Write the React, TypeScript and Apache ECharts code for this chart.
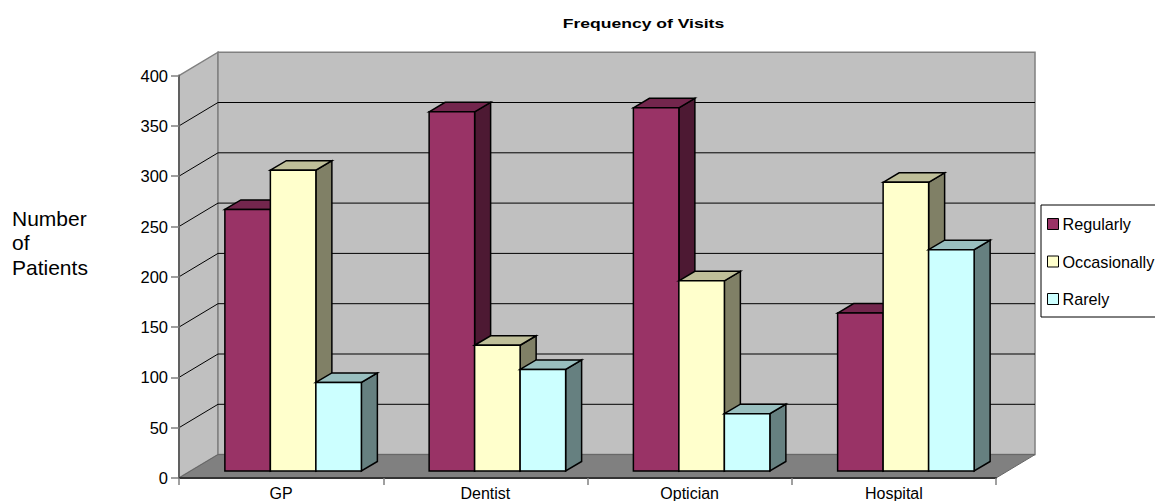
import React, { useEffect, useRef } from "react";
import * as echarts from "echarts";

const categories = ["GP", "Dentist", "Optician", "Hospital"];
const regularly = [260, 357, 361, 157];
const occasionally = [299, 125, 189, 287];
const rarely = [88, 101, 57, 220];
const yTicks = [50, 100, 150, 200, 250, 300, 350];
const seriesNames = ["Regularly", "Occasionally", "Rarely"];
const seriesValues = [regularly, occasionally, rarely];
const fronts = ["#993366", "#FFFFCC", "#CCFFFF"];
const tops = ["#73264D", "#BFBF99", "#99BFBF"];
const sides = ["#4D1933", "#808066", "#668080"];

const FONT = "Liberation Sans, Arial, sans-serif";
const WALL_DX = 39;
const WALL_DY = 23.4;
const BAR_W = 45.5;
const BAR_DX = 16;
const BAR_DY = 9.5;
const BASE_LIFT = 7;
const CENTER_SHIFT = 12;

const poly = (points: number[][], fill: string, stroke: string, lineWidth: number) => ({
  type: "polygon",
  shape: { points },
  style: { fill, stroke, lineWidth, lineJoin: "miter" },
});

function wallsItem(params: any) {
  const c = params.coordSys;
  const l = c.x, r = c.x + c.width, t = c.y, b = c.y + c.height;
  const g = "#808080";
  return {
    type: "group",
    children: [
      poly([[l, t], [l + WALL_DX, t - WALL_DY], [l + WALL_DX, b - WALL_DY], [l, b]], "#C0C0C0", g, 1.5),
      poly([[l + WALL_DX, t - WALL_DY], [r + WALL_DX, t - WALL_DY], [r + WALL_DX, b - WALL_DY], [l + WALL_DX, b - WALL_DY]], "#C0C0C0", g, 1.5),
      poly([[l, b], [l + WALL_DX, b - WALL_DY], [r + WALL_DX, b - WALL_DY], [r, b]], "#808080", "#666666", 1),
    ],
  };
}

function gridItem(params: any, api: any) {
  const c = params.coordSys;
  const l = c.x, r = c.x + c.width;
  const y = api.coord([0, api.value(0)])[1];
  const line = (x1: number, y1: number, x2: number, y2: number) => ({
    type: "line",
    shape: { x1, y1, x2, y2 },
    style: { stroke: "#000000", lineWidth: 1 },
  });
  return {
    type: "group",
    children: [
      line(l, y, l + WALL_DX, y - WALL_DY),
      line(l + WALL_DX, y - WALL_DY, r + WALL_DX, y - WALL_DY),
    ],
  };
}

const barItem = (s: number) => (_params: any, api: any) => {
  const cat = api.value(0);
  const v = api.value(1);
  const top = api.coord([cat, v]);
  const bottom = api.coord([cat, 0]);
  const x0 = top[0] + CENTER_SHIFT + (s - 1.5) * BAR_W;
  const x1 = x0 + BAR_W;
  const yT = top[1] - BASE_LIFT;
  const yB = bottom[1] - BASE_LIFT;
  const k = "#000000";
  return {
    type: "group",
    children: [
      poly([[x1, yT], [x1 + BAR_DX, yT - BAR_DY], [x1 + BAR_DX, yB - BAR_DY], [x1, yB]], sides[s], k, 1.5),
      poly([[x0, yT], [x0 + BAR_DX, yT - BAR_DY], [x1 + BAR_DX, yT - BAR_DY], [x1, yT]], tops[s], k, 1.5),
      poly([[x0, yT], [x1, yT], [x1, yB], [x0, yB]], fronts[s], k, 1.5),
    ],
  };
};

export default function App() {
  const ref = useRef<HTMLDivElement>(null);
  useEffect(() => {
    const chart = echarts.init(ref.current!, undefined, { renderer: "svg" });
    chart.setOption({
      animation: false,
      backgroundColor: "#FFFFFF",
      textStyle: { fontFamily: FONT },
      grid: { left: 179, right: 159, top: 75.6, bottom: 23, outerBoundsMode: "none", containLabel: false },
      legend: {
        data: seriesNames,
        orient: "vertical",
        left: 1041,
        top: 205,
        padding: [11, 6, 10, 6],
        itemGap: 21.5,
        itemWidth: 11,
        itemHeight: 11,
        backgroundColor: "#FFFFFF",
        borderColor: "#000000",
        borderWidth: 1,
        borderRadius: 0,
        selectedMode: false,
        icon: "rect",
        textStyle: { fontFamily: FONT, fontSize: 16.2, color: "#000000", padding: [0, 0, 0, -1] },
        itemStyle: { borderColor: "#000000", borderWidth: 1 },
      },
      xAxis: {
        type: "category",
        data: categories,
        z: 5,
        axisLine: { show: true, lineStyle: { color: "#333333", width: 2 } },
        axisTick: { show: true, length: 7, lineStyle: { color: "#808080", width: 1.5 } },
        axisLabel: { fontFamily: FONT, fontSize: 16, color: "#000000", margin: 7 },
      },
      yAxis: {
        type: "value",
        min: 0,
        max: 400,
        interval: 50,
        z: 5,
        splitLine: { show: false },
        axisLine: { show: true, lineStyle: { color: "#606060", width: 2 } },
        axisTick: { show: true, length: 8, lineStyle: { color: "#808080", width: 1.5 } },
        axisLabel: { fontFamily: FONT, fontSize: 16.5, color: "#000000", margin: 11 },
      },
      graphic: [
        {
          type: "text",
          x: 643.5,
          y: 23,
          scaleX: 1.3,
          style: {
            text: "Frequency of Visits",
            fontFamily: FONT,
            fontSize: 13.5,
            fontWeight: "bold",
            fill: "#000000",
            align: "center",
            verticalAlign: "middle",
          },
        },
        {
          type: "text",
          x: 12,
          y: 206,
          style: {
            text: "Number\nof\nPatients",
            fontFamily: FONT,
            fontSize: 21,
            lineHeight: 24.6,
            fill: "#000000",
            align: "left",
            verticalAlign: "top",
          },
        },
      ],
      series: [
        {
          type: "custom",
          name: "walls",
          z: 1,
          silent: true,
          clip: false,
          data: [[0, 0]],
          renderItem: wallsItem,
        },
        {
          type: "custom",
          name: "gridlines",
          z: 2,
          silent: true,
          clip: false,
          data: yTicks,
          encode: { y: 0 },
          renderItem: gridItem,
        },
        ...seriesNames.map((name, s) => ({
          type: "custom",
          name,
          z: 3,
          silent: true,
          clip: false,
          itemStyle: { color: fronts[s] },
          data: seriesValues[s].map((v, i) => [i, v]),
          encode: { x: 0, y: 1 },
          renderItem: barItem(s),
        })),
      ],
    });
    return () => chart.dispose();
  }, []);
  return (
    <div
      ref={ref}
      style={{ position: "absolute", left: 0, top: 0, width: 1155, height: 501, overflow: "hidden" }}
    />
  );
}
